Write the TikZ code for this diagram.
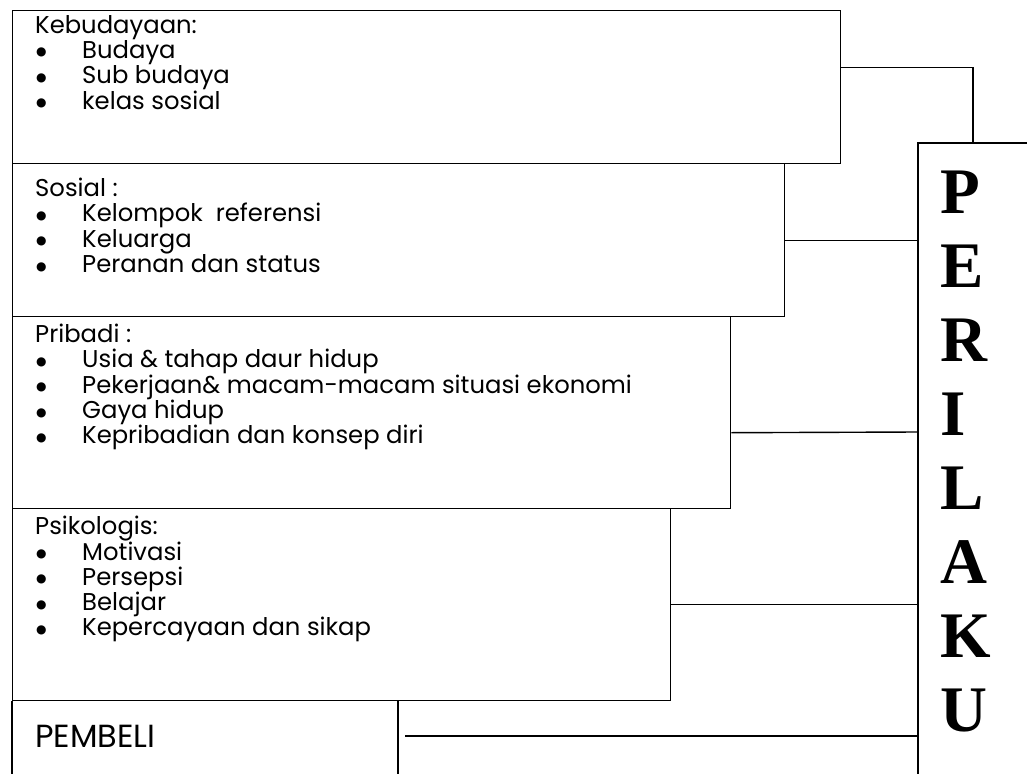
\documentclass[tikz,border=0pt]{standalone}
\usepackage{fontspec}
\setmainfont{Liberation Serif}
\newfontfamily\gothic{Poppins}
\newfontfamily\dejavu{DejaVu Sans}
\newcommand{\itm}[1]{\hspace*{1pt}\makebox[46pt][l]{\raisebox{2.5pt}{\dejavu\fontsize{12}{12}\selectfont ●}}#1}
\tikzset{
  kotak/.style={draw, line width=1.4pt, anchor=north west, inner sep=0pt},
  isi/.style={anchor=north west, align=left, inner sep=0pt, font=\gothic\fontsize{24.3}{25.3}\selectfont},
  garis/.style={line width=1.4pt},
  huruf/.style={anchor=base west, inner sep=0pt, font=\fontsize{65}{65}\selectfont\bfseries}
}

\begin{document}
\begin{tikzpicture}[x=1pt,y=-1pt]
\useasboundingbox (0,0) rectangle (1027,773);
\node[kotak, minimum width=828pt, minimum height=153pt] (kebudayaan) at (12,10) {};
\node[kotak, minimum width=772pt, minimum height=153pt] (sosial) at (12,163) {};
\node[kotak, minimum width=718pt, minimum height=192pt] (pribadi) at (12,316) {};
\node[kotak, minimum width=658pt, minimum height=192pt] (psikologis) at (12,508) {};

\node[isi] (t1) at (35,15) {Kebudayaan:\\ \itm{Budaya}\\ \itm{Sub budaya}\\ \itm{kelas sosial}};
\node[isi] (t2) at (35,178) {Sosial :\\ \itm{Kelompok\ \ referensi}\\ \itm{Keluarga}\\ \itm{Peranan dan status}};
\node[isi] (t3) at (35,324) {Pribadi :\\ \itm{Usia \& tahap daur hidup}\\ \itm{Pekerjaan\& macam-macam situasi ekonomi}\\ \itm{Gaya hidup}\\ \itm{Kepribadian dan konsep diri}};
\node[isi] (t4) at (35,516) {Psikologis:\\ \itm{Motivasi}\\ \itm{Persepsi}\\ \itm{Belajar}\\ \itm{Kepercayaan dan sikap}};
\node[anchor=west, inner sep=0pt, font=\gothic\fontsize{32}{32}\selectfont] (pembeli) at (35,736) {PEMBELI};

\coordinate (pembeliNE) at (398,700);
\coordinate (beli) at (405,736);
\coordinate (perilakuNW) at (918,143);
\draw[garis] (psikologis.south west) -- ++(0,80);
\draw[garis] (pembeliNE) -- ++(0,80);
\draw[garis] (1040,143) -- (perilakuNW) -- (918,790);

\node[huruf] (P) at (940,213) {P};
\node[huruf] (E) at (940,287) {E};
\node[huruf] (R) at (940,361) {R};
\node[huruf] (I) at (940,435) {I};
\node[huruf] (L) at (940,509) {L};
\node[huruf] (A) at (940,583) {A};
\node[huruf] (K) at (940,657) {K};
\node[huruf] (U) at (940,731) {U};

\draw[garis] (kebudayaan.east) ++(0,-19.5) -| (973,143);
\draw[garis] (sosial.east) -- (sosial.east -| perilakuNW);
\draw[garis] (pribadi.east) ++(0,20) -- (918,432);
\draw[garis] (psikologis.east) -- (psikologis.east -| perilakuNW);
\draw[garis] (beli) -- (beli -| perilakuNW);
\end{tikzpicture}
\end{document}
